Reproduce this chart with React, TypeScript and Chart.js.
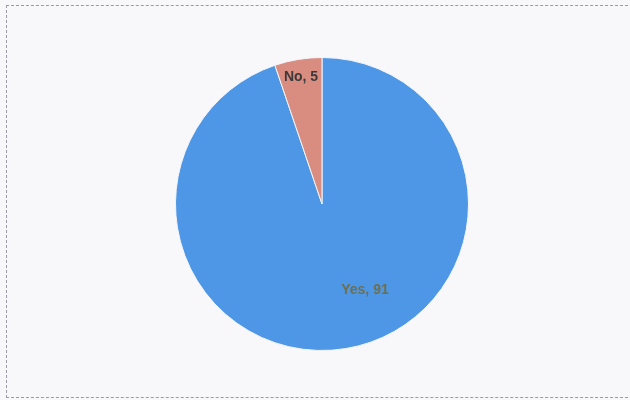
import React, { useEffect, useRef } from "react";
import { Chart, registerables } from "chart.js";

Chart.register(...registerables);

const categories = ["Yes", "No"];
const values = [91, 5];
const sliceColors = ["#4d97e6", "#d98c80"];
const labelColors = ["#6f6f4e", "#3a3a3a"];
// per-slice angular shift (degrees) and radial fraction for label placement
const labelAngleShift = [-17, 0];
const labelRadius = [0.66, 0.88];

const labelPlugin = {
  id: "sliceLabels",
  afterDatasetsDraw(chart: any) {
    const ctx = chart.ctx;
    const meta = chart.getDatasetMeta(0);
    ctx.save();
    ctx.font = "bold 14px 'Liberation Sans', 'DejaVu Sans', sans-serif";
    ctx.textAlign = "center";
    ctx.textBaseline = "middle";
    meta.data.forEach((arc: any, i: number) => {
      const { x, y, startAngle, endAngle, outerRadius } = arc.getProps(
        ["x", "y", "startAngle", "endAngle", "outerRadius"],
        true
      );
      const mid = (startAngle + endAngle) / 2 + (labelAngleShift[i] * Math.PI) / 180;
      const r = outerRadius * labelRadius[i];
      ctx.fillStyle = labelColors[i];
      ctx.fillText(
        `${categories[i]}, ${values[i]}`,
        x + Math.cos(mid) * r,
        y + Math.sin(mid) * r
      );
    });
    ctx.restore();
  },
};

export default function App() {
  const ref = useRef<HTMLCanvasElement>(null);
  useEffect(() => {
    if (!ref.current) return;
    const chart = new Chart(ref.current, {
      type: "pie",
      data: {
        labels: categories,
        datasets: [
          {
            data: values,
            backgroundColor: sliceColors,
            borderColor: "#f4f4f8",
            borderWidth: 1,
          },
        ],
      },
      options: {
        animation: false,
        responsive: false,
        layout: { padding: { top: 57, bottom: 49, left: 14, right: 0 } },
        plugins: {
          legend: { display: false },
          tooltip: { enabled: false },
        },
      },
      plugins: [labelPlugin],
    });
    return () => chart.destroy();
  }, []);
  return (
    <div
      style={{
        position: "fixed",
        left: 0,
        top: 0,
        width: 630,
        height: 400,
        background: "#f8f8fb",
        overflow: "hidden",
      }}
    >
      <div
        style={{
          position: "absolute",
          left: 6,
          top: 5,
          width: 640,
          height: 391,
          border: "1px dashed #9a9aa6",
        }}
      />
      <canvas
        ref={ref}
        width={630}
        height={400}
        style={{ position: "absolute", left: 0, top: 0 }}
      />
    </div>
  );
}
